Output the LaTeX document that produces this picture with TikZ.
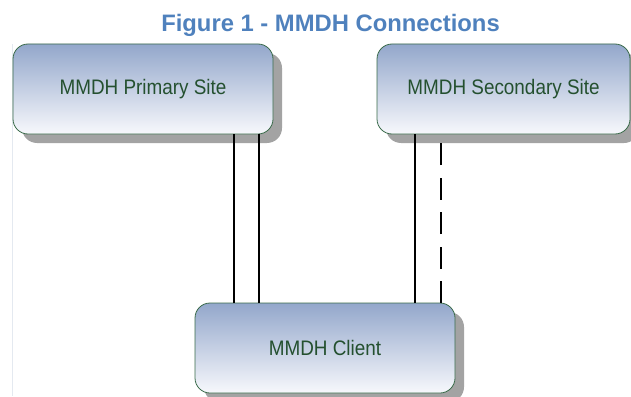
\documentclass[tikz,border=0pt]{standalone}
\usepackage{fontspec}
\setmainfont{Liberation Sans}
\usetikzlibrary{shadows}
\definecolor{titleblue}{HTML}{4F81BD}
\definecolor{boxtop}{HTML}{93A7CB}
\definecolor{boxbot}{HTML}{F7F8FC}
\definecolor{boxedge}{HTML}{3A6B4A}
\definecolor{boxtext}{HTML}{24502F}
\definecolor{shadowgray}{HTML}{A3A3A3}
\definecolor{framegray}{HTML}{E4E9F0}

\begin{document}
\begin{tikzpicture}[x=1pt,y=-1pt,
    site/.style={draw=boxedge,line width=0.8pt,rounded corners=15pt,
      top color=boxtop,bottom color=boxbot,text=boxtext,
      minimum height=90pt,inner sep=0pt,outer sep=0pt,
      font=\fontsize{21}{24}\selectfont,
      drop shadow={shadow xshift=9pt,shadow yshift=-9pt,fill=shadowgray,opacity=1}},
    link/.style={line width=2.6pt,black}]
\useasboundingbox (0,0) rectangle (631,396);
\draw[framegray,line width=0.8pt] (12.5,44) -- (12.5,396);
\node[anchor=base,text=titleblue,font=\bfseries\fontsize{23.8}{26}\selectfont]
    (title) at (330.5,32) {Figure 1 - MMDH Connections};
\node[site,minimum width=260pt] (prim) at (143,89) {\scalebox{0.9}[1]{MMDH Primary Site}};
\node[site,minimum width=253pt] (sec) at (503.5,89) {\scalebox{0.9}[1]{MMDH Secondary Site}};
\node[site,minimum width=260pt] (client) at (325,348) {\scalebox{0.9}[1]{MMDH Client}};
    % links between sites and client
    \path[link]
    ([xshift=-39pt]prim.south east) edge ([xshift=-39pt]prim.south east |- client.north)
    ([xshift=-14pt]prim.south east) edge ([xshift=-14pt]prim.south east |- client.north)
    ([xshift=38pt]sec.south west) edge ([xshift=38pt]sec.south west |- client.north)
    ([xshift=64pt]sec.south west |- client.north) edge[dash pattern=on 22pt off 12.5pt]
      ([xshift=64pt]sec.south west);
\end{tikzpicture}
\end{document}
